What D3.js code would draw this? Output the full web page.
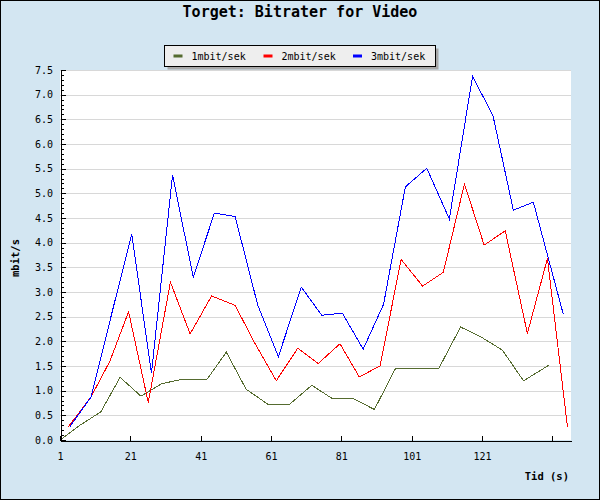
<!DOCTYPE html>
<html>
<head>
<meta charset="utf-8">
<script src="https://cdn.jsdelivr.net/npm/d3@7"></script>
<style>
  html, body { margin: 0; padding: 0; background: #fff; }
  svg { display: block; }
  text { font-family: "DejaVu Sans Mono", "Liberation Mono", monospace; }
</style>
</head>
<body>
<svg id="chart" width="600" height="500"></svg>
<script>
// ---- data ----
const chartTitle = "Torget: Bitrater for Video";
const yTitle = "mbit/s";
const xTitle = "Tid (s)";
const seriesNames = ["1mbit/sek", "2mbit/sek", "3mbit/sek"];
const seriesColors = ["#556B2F", "#FF0000", "#0000FF"];

const x1mbit = [1, 6.7, 12.6, 18.1, 24.0, 29.9, 35.6, 42.7, 48.3, 53.9, 60.2, 66.2, 72.6, 78.2, 84.0, 90.4, 96.4, 108.7, 114.9, 120.7, 126.8, 132.8, 140.1];
const y1mbit = [0, 0.30, 0.57, 1.27, 0.89, 1.14, 1.23, 1.22, 1.78, 1.03, 0.72, 0.72, 1.11, 0.85, 0.85, 0.62, 1.45, 1.45, 2.29, 2.09, 1.82, 1.20, 1.52];

const x2mbit = [3.4, 9.8, 15.2, 20.5, 26.1, 32.4, 38.0, 44.1, 50.8, 56.4, 62.5, 68.6, 74.4, 80.6, 86.1, 92.0, 98.0, 104.1, 110.0, 116.0, 121.6, 127.6, 133.9, 139.6, 145.3];
const y2mbit = [0.27, 0.87, 1.60, 2.60, 0.76, 3.20, 2.15, 2.92, 2.73, 1.96, 1.20, 1.86, 1.55, 1.95, 1.28, 1.50, 3.66, 3.12, 3.40, 5.19, 3.95, 4.24, 2.16, 3.68, 0.26];

const x3mbit = [3.8, 9.8, 15.5, 21.4, 27.0, 33.0, 38.9, 44.9, 50.8, 57.2, 63.1, 69.6, 75.4, 81.3, 87.2, 93.0, 99.2, 105.3, 111.7, 118.3, 124.1, 129.9, 135.6, 144.1];
const y3mbit = [0.27, 0.87, 2.50, 4.18, 1.35, 5.37, 3.30, 4.60, 4.53, 2.74, 1.69, 3.10, 2.53, 2.57, 1.84, 2.75, 5.13, 5.51, 4.48, 7.37, 6.58, 4.66, 4.82, 2.55];

const xTickValues = [1, 21, 41, 61, 81, 101, 121, 141];
const xTickLabels = ["1", "21", "41", "61", "81", "101", "121", ""];
const yTickValues = [0, 0.5, 1.0, 1.5, 2.0, 2.5, 3.0, 3.5, 4.0, 4.5, 5.0, 5.5, 6.0, 6.5, 7.0, 7.5];
const yTickLabels = ["0.0", "0.5", "1.0", "1.5", "2.0", "2.5", "3.0", "3.5", "4.0", "4.5", "5.0", "5.5", "6.0", "6.5", "7.0", "7.5"];
const xDomain = [1, 146.3];
const yDomain = [0, 7.5];

// ---- layout ----
const W = 600, H = 500;
const plot = { left: 60, right: 571, top: 70, bottom: 440 };

const svg = d3.select("#chart");

// background + frame
svg.append("rect").attr("x", 0).attr("y", 0).attr("width", W).attr("height", H).attr("fill", "#D3E6F2");
svg.append("rect").attr("x", 0.5).attr("y", 0.5).attr("width", W - 1).attr("height", H - 1)
  .attr("fill", "none").attr("stroke", "#000").attr("stroke-width", 1);

// plot area
svg.append("rect").attr("x", plot.left).attr("y", plot.top)
  .attr("width", plot.right - plot.left).attr("height", plot.bottom - plot.top).attr("fill", "#fff");

const x = d3.scaleLinear().domain(xDomain).range([plot.left, plot.right]);
const y = d3.scaleLinear().domain(yDomain).range([plot.bottom, plot.top]);

// grid
svg.append("g").selectAll("line").data(yTickValues.filter(v => v > 0)).join("line")
  .attr("x1", plot.left).attr("x2", plot.right)
  .attr("y1", d => Math.round(y(d)) + 0.5).attr("y2", d => Math.round(y(d)) + 0.5)
  .attr("stroke", "#D8D8D8").attr("stroke-width", 1).attr("shape-rendering", "crispEdges");

// series lines
const seriesX = [x1mbit, x2mbit, x3mbit];
const seriesY = [y1mbit, y2mbit, y3mbit];
const line = d3.line().x(d => x(d[0])).y(d => y(d[1]));
seriesNames.forEach((name, i) => {
  const pts = seriesX[i].map((v, j) => [v, seriesY[i][j]]);
  svg.append("path").datum(pts).attr("d", line)
    .attr("fill", "none").attr("stroke", seriesColors[i]).attr("stroke-width", 1)
    .attr("shape-rendering", "crispEdges");
});

// y minor ticks
const minorVals = d3.range(0, 76).map(v => v / 10);
svg.append("g").attr("transform", `translate(${plot.left + 0.5},0)`)
  .call(d3.axisLeft(y).tickValues(minorVals).tickSize(-3).tickFormat(""))
  .call(g => g.select(".domain").remove())
  .call(g => g.selectAll("line").attr("shape-rendering", "crispEdges"));

// y axis
const yAxis = svg.append("g").attr("transform", `translate(${plot.left + 0.5},0)`)
  .call(d3.axisLeft(y).tickValues(yTickValues).tickSize(-5).tickSizeOuter(0).tickPadding(7.5)
    .tickFormat((d, i) => yTickLabels[i]));
yAxis.selectAll("text").attr("font-size", "10px").attr("fill", "#000")
  .style("font-family", '"DejaVu Sans Mono", monospace');
yAxis.selectAll("line, path").attr("stroke", "#000").attr("shape-rendering", "crispEdges");

// x axis
const xAxis = svg.append("g").attr("transform", `translate(0,${plot.bottom + 0.5})`)
  .call(d3.axisBottom(x).tickValues(xTickValues).tickSize(-5).tickSizeOuter(0).tickPadding(12)
    .tickFormat((d, i) => xTickLabels[i]));
xAxis.selectAll("text").attr("font-size", "10px").attr("fill", "#000")
  .style("font-family", '"DejaVu Sans Mono", monospace');
xAxis.selectAll("line, path").attr("stroke", "#000").attr("shape-rendering", "crispEdges");

// titles
svg.append("text").attr("x", 300).attr("y", 17).attr("text-anchor", "middle")
  .attr("font-size", "15px").attr("font-weight", "bold").text(chartTitle);

svg.append("text").attr("transform", `translate(19,258) rotate(-90)`).attr("text-anchor", "middle")
  .attr("font-size", "10.5px").attr("font-weight", "bold").text(yTitle);

svg.append("text").attr("x", 569).attr("y", 480).attr("text-anchor", "end")
  .attr("font-size", "10.5px").attr("font-weight", "bold").text(xTitle);

// legend
const lg = { x: 164.5, y: 45.5, w: 271, h: 21 };
svg.append("rect").attr("x", lg.x + 3).attr("y", lg.y + 3).attr("width", lg.w).attr("height", lg.h)
  .attr("fill", "#A8A8A8");
svg.append("rect").attr("x", lg.x).attr("y", lg.y).attr("width", lg.w).attr("height", lg.h)
  .attr("fill", "#EEEEEE").attr("stroke", "#000").attr("stroke-width", 1);
const legendItemX = [173.5, 263.5, 353];
seriesNames.forEach((name, i) => {
  svg.append("rect").attr("x", legendItemX[i]).attr("y", 54.5).attr("width", 9).attr("height", 3)
    .attr("fill", seriesColors[i]);
  svg.append("text").attr("x", legendItemX[i] + 18).attr("y", 60)
    .attr("font-size", "10px").text(name);
});
</script>
</body>
</html>
